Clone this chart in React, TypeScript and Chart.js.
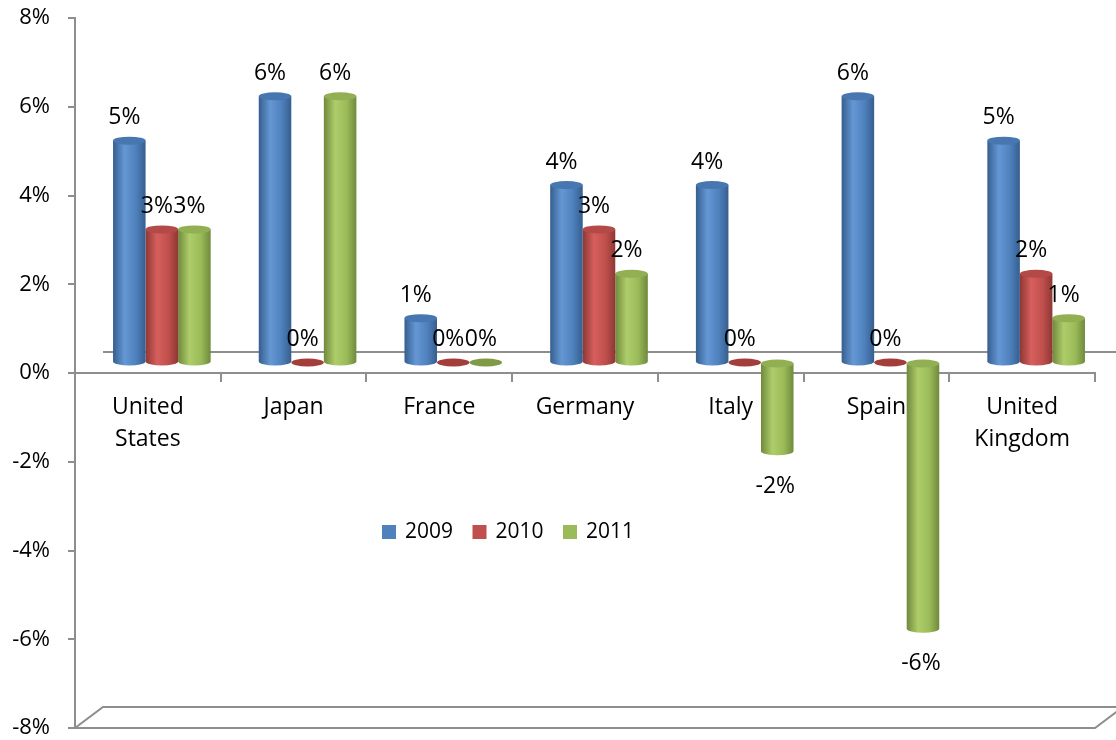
import React, { useEffect, useRef } from "react";
import { Chart, registerables } from "chart.js";

Chart.register(...registerables);

// ---- data ----
const categories: (string | string[])[] = [
  ["United", "States"],
  "Japan",
  "France",
  "Germany",
  "Italy",
  "Spain",
  ["United", "Kingdom"],
];
const seriesLabels = ["2009", "2010", "2011"];
const values2009 = [5, 6, 1, 4, 4, 6, 5];
const values2010 = [3, 0, 0, 3, 0, 0, 2];
const values2011 = [3, 6, 0, 2, -2, -6, 1];
const yTickValues = [-8, -6, -4, -2, 0, 2, 4, 6, 8];

// ---- style ----
const FONT = "'Open Sans', 'Noto Sans', sans-serif";
const AXIS_GRAY = "#8E8E8E";
const palettes = [
  { base: "#4F81BD", dark: "#365E8E", light: "#6497D4", cap: "#4776B0", disk: "#3F6DA6" },
  { base: "#C0504D", dark: "#8E3734", light: "#D65F5C", cap: "#B34A47", disk: "#A33E3B" },
  { base: "#9BBB59", dark: "#6F8A3C", light: "#AECD6A", cap: "#92B053", disk: "#7F9B45" },
];
const DEPTH_X = 28;
const DEPTH_Y = 21;

function drawCylinder(ctx: CanvasRenderingContext2D, x: number, top: number, bottom: number, w: number, p: any) {
  const rx = w / 2;
  const ry = 4;
  if (bottom - top < 1) {
    ctx.fillStyle = p.disk;
    ctx.beginPath();
    ctx.ellipse(x, top, rx, ry, 0, 0, Math.PI * 2);
    ctx.fill();
    return;
  }
  const g = ctx.createLinearGradient(x - rx, 0, x + rx, 0);
  g.addColorStop(0, p.dark);
  g.addColorStop(0.35, p.light);
  g.addColorStop(0.7, p.base);
  g.addColorStop(1, p.dark);
  ctx.fillStyle = g;
  ctx.beginPath();
  ctx.moveTo(x - rx, top);
  ctx.lineTo(x - rx, bottom);
  ctx.ellipse(x, bottom, rx, ry, 0, Math.PI, 0, true);
  ctx.lineTo(x + rx, top);
  ctx.closePath();
  ctx.fill();
  ctx.fillStyle = p.cap;
  ctx.beginPath();
  ctx.ellipse(x, top, rx, ry, 0, 0, Math.PI * 2);
  ctx.fill();
}

const cylinderPlugin = {
  id: "cylinder3d",
  beforeDatasetsDraw(chart: any) {
    const { ctx, chartArea, scales } = chart;
    const y0 = scales.y.getPixelForValue(0);
    ctx.save();
    ctx.strokeStyle = AXIS_GRAY;
    ctx.lineWidth = 2;
    // back wall zero line
    ctx.beginPath();
    ctx.moveTo(chartArea.left + DEPTH_X, y0 - DEPTH_Y);
    ctx.lineTo(chart.width + 5, y0 - DEPTH_Y);
    ctx.stroke();
    // floor
    const yb = chartArea.bottom;
    ctx.beginPath();
    ctx.moveTo(chartArea.left, yb);
    ctx.lineTo(chartArea.right, yb);
    ctx.lineTo(chartArea.right + DEPTH_X, yb - DEPTH_Y);
    ctx.lineTo(chartArea.left + DEPTH_X, yb - DEPTH_Y);
    ctx.closePath();
    ctx.stroke();
    ctx.restore();
  },
  beforeDatasetDraw(chart: any, args: any) {
    const { ctx } = chart;
    const p = palettes[args.index];
    ctx.save();
    ctx.translate(DEPTH_X / 2, -DEPTH_Y / 2);
    for (const el of args.meta.data) {
      const { x, y, base, width } = el.getProps(["x", "y", "base", "width"], true);
      drawCylinder(ctx, x, Math.min(y, base), Math.max(y, base), width, p);
    }
    ctx.restore();
    return false;
  },
  afterDatasetsDraw(chart: any) {
    const { ctx } = chart;
    ctx.save();
    ctx.translate(DEPTH_X / 2, -DEPTH_Y / 2);
    ctx.fillStyle = "#000";
    ctx.font = `23px ${FONT}`;
    ctx.textAlign = "center";
    ctx.textBaseline = "middle";
    chart.data.datasets.forEach((ds: any, di: number) => {
      const meta = chart.getDatasetMeta(di);
      meta.data.forEach((el: any, i: number) => {
        const v = ds.data[i];
        const { x, y, base } = el.getProps(["x", "y", "base"], true);
        const text = `${v}%`;
        if (v < 0) {
          ctx.fillText(text, x - 2, Math.max(y, base) + 35);
        } else {
          ctx.fillText(text, x - 5, Math.min(y, base) - 23);
        }
      });
    });
    ctx.restore();

    // legend
    ctx.save();
    ctx.font = `21px ${FONT}`;
    ctx.textAlign = "left";
    ctx.textBaseline = "middle";
    const ly = 532;
    let lx = 382;
    chart.data.datasets.forEach((ds: any, di: number) => {
      ctx.fillStyle = palettes[di].base;
      ctx.fillRect(lx, ly - 7, 14, 14);
      ctx.fillStyle = "#000";
      ctx.fillText(ds.label, lx + 23, ly);
      lx += 90.5;
    });
    ctx.restore();
  },
};

export default function App() {
  const ref = useRef<HTMLCanvasElement>(null);
  useEffect(() => {
    document.body.style.margin = "0";
    const canvas = ref.current!;
    const chart = new Chart(canvas, {
      type: "bar",
      data: {
        labels: categories as any,
        datasets: [values2009, values2010, values2011].map((d, i) => ({
          label: seriesLabels[i],
          data: d,
          backgroundColor: palettes[i].base,
          categoryPercentage: 0.67,
          barPercentage: 1.0,
        })),
      },
      options: {
        animation: false,
        responsive: false,
        devicePixelRatio: 1,
        layout: { padding: { left: 0, top: 18, right: 21, bottom: 12 } },
        plugins: { legend: { display: false }, tooltip: { enabled: false } },
        scales: {
          x: {
            position: { y: 0 } as any,
            offset: true,
            grid: { offset: true, drawOnChartArea: false, drawTicks: true, tickLength: 8, color: AXIS_GRAY, lineWidth: 2 },
            border: { color: AXIS_GRAY, width: 2 },
            ticks: {
              color: "#000",
              font: { family: FONT, size: 23, lineHeight: 1.4 },
              padding: 10,
              maxRotation: 0,
              autoSkip: false,
            },
          },
          y: {
            min: -8,
            max: 8,
            afterBuildTicks: (s: any) => {
              s.ticks = yTickValues.map((v) => ({ value: v }));
            },
            afterFit: (s: any) => {
              s.width = 75;
              s.paddingTop = 0;
              s.paddingBottom = 0;
            },
            grid: { drawOnChartArea: false, tickLength: 7, color: AXIS_GRAY, lineWidth: 2 },
            border: { color: AXIS_GRAY, width: 2 },
            ticks: {
              color: "#000",
              font: { family: FONT, size: 22, lineHeight: 1 },
              padding: 18,
              callback: (v: any) => `${v}%`,
            },
          },
        },
      },
      plugins: [cylinderPlugin],
    });
    return () => chart.destroy();
  }, []);
  return <canvas ref={ref} width={1116} height={740} style={{ display: "block" }} />;
}
